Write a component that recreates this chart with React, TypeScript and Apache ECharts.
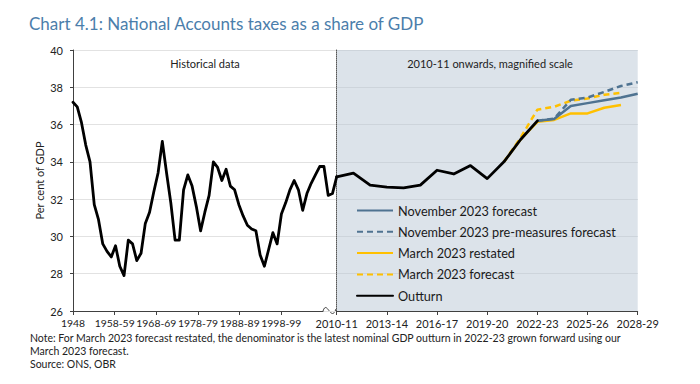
import React, { useEffect, useRef } from 'react';
import * as echarts from 'echarts';

// Historical data: one value per year from 1948 to 2010-11 (per cent of GDP)
const histValues = [
  37.2, 36.95, 36.1, 34.9, 34.0, 31.7, 30.9, 29.6, 29.2, 28.9,
  29.5, 28.4, 27.9, 29.8, 29.6, 28.7, 29.1, 30.7, 31.3, 32.4,
  33.4, 35.1, 33.4, 31.8, 29.8, 29.8, 32.5, 33.3, 32.7, 31.6,
  30.3, 31.3, 32.2, 34.0, 33.7, 33.0, 33.6, 32.7, 32.5, 31.7,
  31.1, 30.6, 30.4, 30.3, 29.0, 28.4, 29.3, 30.2, 29.6, 31.2,
  31.8, 32.5, 33.0, 32.5, 31.4, 32.3, 32.85, 33.3, 33.75, 33.75,
  32.2, 32.3, 33.2,
];
const histTickLabels = ['1948', '1958-59', '1968-69', '1978-79', '1988-89', '1998-99'];

// Magnified panel: 2010-11 onwards
const recentYears = [
  '2010-11', '2011-12', '2012-13', '2013-14', '2014-15', '2015-16', '2016-17',
  '2017-18', '2018-19', '2019-20', '2020-21', '2021-22', '2022-23', '2023-24',
  '2024-25', '2025-26', '2026-27', '2027-28', '2028-29',
];
const outturn = [33.2, 33.4, 32.75, 32.65, 32.6, 32.75, 33.55, 33.35, 33.8, 33.1, 34.0, 35.2, 36.2];
const nov23Forecast = [null, null, null, null, null, null, null, null, null, null, null, null, 36.2, 36.3, 37.0, 37.15, 37.3, 37.45, 37.65];
const nov23PreMeasures = [null, null, null, null, null, null, null, null, null, null, null, null, 36.2, 36.32, 37.33, 37.45, 37.75, 38.07, 38.27];
const mar23Restated = [null, null, null, null, null, null, null, null, null, null, 34.0, 35.2, 36.15, 36.25, 36.6, 36.6, 36.9, 37.05, null];
const mar23Forecast = [null, null, null, null, null, null, null, null, null, null, 34.0, 35.3, 36.8, 36.95, 37.28, 37.4, 37.6, 37.7, null];

const FONT = 'Lato, "Open Sans", sans-serif';
const BLUE = '#4f7391';
const GOLD = '#ffc000';

export default function App() {
  const ref = useRef<HTMLDivElement>(null);
  useEffect(() => {
    if (!ref.current) return;
    const chart = echarts.init(ref.current, undefined, { renderer: 'svg' });
    const plotTop = 50;
    const plotH = 261;
    const lineBase = { symbol: 'none', showSymbol: false };
    chart.setOption({
      animation: false,
      backgroundColor: '#ffffff',
      textStyle: { fontFamily: FONT },
      title: {
        text: 'Chart 4.1: National Accounts taxes as a share of GDP',
        left: 24,
        top: 10,
        textStyle: { fontFamily: FONT, fontSize: 17, fontWeight: 'normal', color: '#4b7eab' },
      },
      grid: [
        { left: 73, top: plotTop, width: 263.7, height: plotH },
        { left: 73, top: plotTop, width: 250, height: plotH },
        { left: 336.7, top: plotTop, width: 301, height: plotH, show: true, backgroundColor: '#dce3ea', borderWidth: 0 },
      ],
      xAxis: [
        { gridIndex: 0, type: 'value', min: 0, max: 62, show: false },
        {
          gridIndex: 1, type: 'value', min: 0, max: 60,
          axisLine: { show: true, lineStyle: { color: '#404040', width: 1 } },
          axisTick: { show: true, customValues: [0, 10, 20, 30, 40, 50], length: 4, lineStyle: { color: '#404040' } },
          axisLabel: {
            show: true, customValues: [0, 10, 20, 30, 40, 50], margin: 7,
            showMinLabel: true, showMaxLabel: true, hideOverlap: false,
            fontSize: 10.4, color: '#222', fontFamily: FONT,
            formatter: (v: number) => histTickLabels[Math.round(v / 10)] ?? '',
          },
          splitLine: { show: false },
        },
        {
          gridIndex: 2, type: 'category', data: recentYears, boundaryGap: false,
          axisLine: { show: true, lineStyle: { color: '#404040', width: 1 } },
          axisTick: { show: true, interval: 2, length: 4, lineStyle: { color: '#404040' } },
          axisLabel: { interval: 2, margin: 7, fontSize: 11, color: '#222', fontFamily: FONT, showMinLabel: true, showMaxLabel: true },
          splitLine: { show: false },
        },
      ],
      yAxis: [
        {
          gridIndex: 0, type: 'value', min: 26, max: 40, interval: 2,
          name: 'Per cent of GDP', nameLocation: 'middle', nameRotate: 90, nameGap: 28,
          nameTextStyle: { fontSize: 11, color: '#222', fontFamily: FONT },
          axisLine: { show: true, lineStyle: { color: '#404040', width: 1 } },
          axisTick: { show: true, length: 3, lineStyle: { color: '#404040' } },
          axisLabel: { margin: 10, fontSize: 11, color: '#222', fontFamily: FONT },
          splitLine: { show: true, lineStyle: { color: '#e2e2e2', width: 1 } },
        },
        { gridIndex: 1, type: 'value', min: 26, max: 40, show: false },
        {
          gridIndex: 2, type: 'value', min: 26, max: 40, interval: 2,
          axisLine: { show: true, lineStyle: { color: '#555', width: 1, type: 'dotted' } },
          axisTick: { show: false },
          axisLabel: { show: false },
          splitLine: { show: true, lineStyle: { color: '#cdd4db', width: 1 } },
        },
      ],
      legend: {
        orient: 'vertical',
        left: 351,
        top: 199,
        itemWidth: 36,
        itemHeight: 14,
        itemGap: 8.3,
        itemStyle: { opacity: 0 },
        data: [
          'November 2023 forecast',
          'November 2023 pre-measures forecast',
          'March 2023 restated',
          'March 2023 forecast',
          'Outturn',
        ],
        textStyle: { fontSize: 12.7, color: '#1a1a1a', fontFamily: FONT },
      },
      series: [
        {
          ...lineBase, name: 'Outturn', type: 'line', xAxisIndex: 0, yAxisIndex: 0,
          data: histValues.map((v, i) => [i, v]),
          lineStyle: { color: '#000', width: 2.8, join: 'round', cap: 'round' },
          itemStyle: { color: '#000' },
        },
        {
          ...lineBase, name: 'March 2023 forecast', type: 'line', xAxisIndex: 2, yAxisIndex: 2,
          data: mar23Forecast,
          lineStyle: { color: GOLD, width: 2.5, type: [6, 4] },
          itemStyle: { color: GOLD },
        },
        {
          ...lineBase, name: 'March 2023 restated', type: 'line', xAxisIndex: 2, yAxisIndex: 2,
          data: mar23Restated,
          lineStyle: { color: GOLD, width: 2.5 },
          itemStyle: { color: GOLD },
        },
        {
          ...lineBase, name: 'November 2023 pre-measures forecast', type: 'line', xAxisIndex: 2, yAxisIndex: 2,
          data: nov23PreMeasures,
          lineStyle: { color: BLUE, width: 2.5, type: [6, 4] },
          itemStyle: { color: BLUE },
        },
        {
          ...lineBase, name: 'November 2023 forecast', type: 'line', xAxisIndex: 2, yAxisIndex: 2,
          data: nov23Forecast,
          lineStyle: { color: BLUE, width: 2.5 },
          itemStyle: { color: BLUE },
        },
        {
          ...lineBase, name: 'Outturn', type: 'line', xAxisIndex: 2, yAxisIndex: 2,
          data: outturn,
          lineStyle: { color: '#000', width: 2.8, join: 'round', cap: 'round' },
          itemStyle: { color: '#000' },
        },
      ],
      graphic: [
        {
          type: 'text', x: 205, y: 63,
          style: { text: 'Historical data', fontSize: 11, fill: '#222', fontFamily: FONT, align: 'center', verticalAlign: 'middle' },
        },
        {
          type: 'text', x: 490, y: 63,
          style: { text: '2010-11 onwards, magnified scale', fontSize: 11, fill: '#222', fontFamily: FONT, align: 'center', verticalAlign: 'middle' },
        },
        {
          type: 'bezierCurve',
          shape: { x1: 323, y1: 311, cpx1: 327, cpy1: 299, cpx2: 331, cpy2: 323, x2: 336, y2: 309 },
          style: { stroke: '#404040', lineWidth: 1, fill: 'none' },
        },
        {
          type: 'text', left: 30, top: 331,
          style: {
            text: 'Note: For March 2023 forecast restated, the denominator is the latest nominal GDP outturn in 2022-23 grown forward using our\nMarch 2023 forecast.\nSource: ONS, OBR',
            fontSize: 10.5, lineHeight: 13, fill: '#222', fontFamily: FONT,
          },
        },
      ],
    });
    return () => chart.dispose();
  }, []);
  return (
    <div
      ref={ref}
      style={{ position: 'fixed', left: 0, top: 0, width: 700, height: 384, background: '#fff' }}
    />
  );
}
